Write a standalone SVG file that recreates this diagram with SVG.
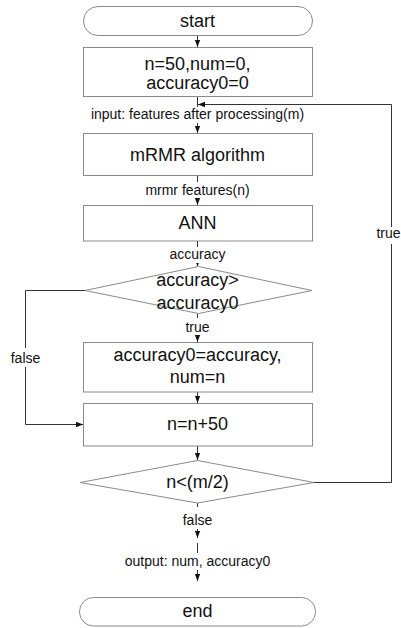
<svg xmlns="http://www.w3.org/2000/svg" width="401" height="628" viewBox="0 0 401 628">
<style>
.node rect, .node polygon {fill:#fff; stroke:#8a8a8a; stroke-width:1}
text {font-family:"Liberation Sans", Arial, sans-serif; fill:#111; text-anchor:middle}
.t {font-size:18px}
.el {font-size:14px}
.conn {fill:none; stroke:#333; stroke-width:1}
.lbg {fill:#fff; stroke:none}
</style>
<defs>
<marker id="ah" viewBox="0 0 10 10" refX="10" refY="5" markerWidth="7" markerHeight="7" markerUnits="userSpaceOnUse" orient="auto">
<path d="M0,1.2 L10,5 L0,8.8 z" fill="#111"/>
</marker>
</defs>
<rect width="401" height="628" fill="#fff"/>
<g id="connectors">
<path class="conn" d="M197.5,35.5 V47" marker-end="url(#ah)"/>
<path class="conn" d="M197.5,96.5 V133" marker-end="url(#ah)"/>
<path class="conn" d="M314,482.5 H391.5 V104.5 H198" marker-end="url(#ah)"/>
<path class="conn" d="M197.5,175.5 V205" marker-end="url(#ah)"/>
<path class="conn" d="M197.5,241 V266.5" marker-end="url(#ah)"/>
<path class="conn" d="M197.5,313.5 V342" marker-end="url(#ah)"/>
<path class="conn" d="M85,290.5 H25.5 V424.5 H83" marker-end="url(#ah)"/>
<path class="conn" d="M197.5,392 V403" marker-end="url(#ah)"/>
<path class="conn" d="M197.5,446 V460" marker-end="url(#ah)"/>
<path class="conn" d="M197.5,503 V538" marker-end="url(#ah)"/>
<path class="conn" d="M197.5,543 V581" marker-end="url(#ah)"/>
<rect class="lbg" x="89" y="107" width="218" height="16"/>
<text class="el" x="197.5" y="119">input: features after processing(m)</text>
<rect class="lbg" x="143" y="182" width="109" height="16"/>
<text class="el" x="197.5" y="195">mrmr features(n)</text>
<rect class="lbg" x="168" y="247" width="60" height="16"/>
<text class="el" x="197.5" y="259">accuracy</text>
<rect class="lbg" x="183" y="318" width="29" height="17"/>
<text class="el" x="197.5" y="331.5">true</text>
<rect class="lbg" x="10" y="348" width="31" height="19"/>
<text class="el" x="25.5" y="362.5">false</text>
<rect class="lbg" x="376" y="227" width="25" height="17"/>
<text class="el" x="388.5" y="238">true</text>
<rect class="lbg" x="181" y="507" width="33" height="22"/>
<text class="el" x="197.5" y="525">false</text>
<rect class="lbg" x="124" y="553" width="148" height="17"/>
<text class="el" x="197.5" y="566">output: num, accuracy0</text>
</g>
<g id="start" class="node">
<rect x="83.5" y="6.5" width="229" height="29" rx="14.5"/>
<text class="t" x="197.5" y="27">start</text>
</g>
<g id="init" class="node">
<rect x="83.5" y="47.5" width="229" height="49"/>
<text class="t" x="197.5" y="70">n=50,num=0,</text>
<text class="t" x="197.5" y="89">accuracy0=0</text>
</g>
<g id="mrmr" class="node">
<rect x="83.5" y="133.5" width="229" height="42"/>
<text class="t" x="197.5" y="161">mRMR algorithm</text>
</g>
<g id="ann" class="node">
<rect x="83.5" y="205.5" width="229" height="35.5"/>
<text class="t" x="197.5" y="229">ANN</text>
</g>
<g id="cond1" class="node">
<polygon points="198.5,266.5 312,290.5 198.5,313.5 85,290.5"/>
<text class="t" x="197.5" y="286">accuracy&gt;</text>
<text class="t" x="197.5" y="308.5">accuracy0</text>
</g>
<g id="update" class="node">
<rect x="83.5" y="342.5" width="229" height="49.5"/>
<text class="t" x="197.5" y="361">accuracy0=accuracy,</text>
<text class="t" x="197.5" y="383">num=n</text>
</g>
<g id="incr" class="node">
<rect x="83.5" y="403.5" width="229" height="42.5"/>
<text class="t" x="197.5" y="430">n=n+50</text>
</g>
<g id="cond2" class="node">
<polygon points="197.5,460.5 314,482.5 197.5,503 80,482.5"/>
<text class="t" x="197.5" y="488">n&lt;(m/2)</text>
</g>
<g id="end" class="node">
<rect x="79.5" y="597.5" width="236" height="28.5" rx="14"/>
<text class="t" x="197.5" y="617">end</text>
</g>
</svg>
